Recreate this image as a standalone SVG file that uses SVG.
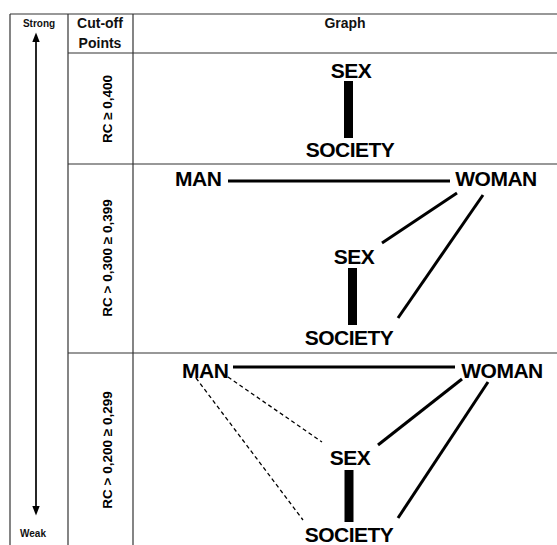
<svg xmlns="http://www.w3.org/2000/svg" width="557" height="545" viewBox="0 0 557 545">
<style>
.grid{stroke:#333;stroke-width:1.2;fill:none}
.hd{font-family:"Liberation Sans",Arial,sans-serif;font-weight:bold;font-size:14px;fill:#111;text-anchor:middle}
.sm{font-family:"Liberation Sans",Arial,sans-serif;font-weight:bold;font-size:10px;fill:#111;text-anchor:middle}
.rc{font-family:"Liberation Sans",Arial,sans-serif;font-weight:bold;font-size:13.5px;fill:#000;text-anchor:middle}
.nd{font-family:"Liberation Sans",Arial,sans-serif;font-weight:bold;font-size:21px;letter-spacing:-0.5px;fill:#000}
.ndc{text-anchor:middle}
.e{stroke:#000;stroke-width:3;fill:none}
.eb{stroke:#000;stroke-width:9;fill:none}
.ed{stroke:#000;stroke-width:1.3;stroke-dasharray:4,3;fill:none}
.ah{fill:#000}
</style>
<rect width="557" height="545" fill="#fff"/>
<g id="table">
<line class="grid" x1="10" y1="14" x2="557" y2="14"/>
<line class="grid" x1="10" y1="14" x2="10" y2="545"/>
<line class="grid" x1="68" y1="14" x2="68" y2="545"/>
<line class="grid" x1="133" y1="14" x2="133" y2="545"/>
<line class="grid" x1="68" y1="53" x2="557" y2="53"/>
<line class="grid" x1="68" y1="164" x2="557" y2="164"/>
<line class="grid" x1="68" y1="353" x2="557" y2="353"/>
<text class="sm" x="39" y="27">Strong</text>
<text class="sm" x="33" y="537">Weak</text>
<text class="hd" x="100" y="28">Cut-off</text>
<text class="hd" x="100" y="48">Points</text>
<text class="hd" x="345" y="28">Graph</text>
<text class="rc" transform="translate(112,109) rotate(-90)">RC ≥ 0,400</text>
<text class="rc" transform="translate(112,258) rotate(-90)">RC &gt; 0,300 ≥ 0,399</text>
<text class="rc" transform="translate(112,450) rotate(-90)">RC &gt; 0,200 ≥ 0,299</text>
</g>
<g id="scale-arrow">
<line x1="36" y1="40" x2="36" y2="508" stroke="#000" stroke-width="1.7"/>
<path class="ah" d="M32.3,42 L36,32.5 L39.7,42 Z"/>
<path class="ah" d="M32.3,506 L36,515.5 L39.7,506 Z"/>
</g>
<g id="connectors">
<line class="eb" x1="348.5" y1="81" x2="348.5" y2="138"/>
<line class="e" x1="228" y1="181" x2="450" y2="181"/>
<line class="e" x1="457" y1="193" x2="382" y2="243"/>
<line class="e" x1="483" y1="195" x2="398" y2="318"/>
<line class="eb" x1="352.5" y1="268" x2="352.5" y2="325"/>
<line class="e" x1="233" y1="367" x2="455" y2="367"/>
<line class="e" x1="462" y1="379" x2="378" y2="445"/>
<line class="e" x1="488" y1="382" x2="398" y2="518"/>
<line class="ed" x1="228" y1="377" x2="322" y2="442"/>
<line class="ed" x1="196" y1="378" x2="303" y2="520"/>
<line class="eb" x1="349" y1="470" x2="349" y2="522"/>
</g>
<g id="r1-sex"><text class="nd ndc" x="351" y="78">SEX</text></g>
<g id="r1-society"><text class="nd ndc" x="350" y="157">SOCIETY</text></g>
<g id="r2-man"><text class="nd" x="175" y="186">MAN</text></g>
<g id="r2-woman"><text class="nd ndc" x="496" y="186">WOMAN</text></g>
<g id="r2-sex"><text class="nd ndc" x="354" y="264">SEX</text></g>
<g id="r2-society"><text class="nd ndc" x="349" y="345">SOCIETY</text></g>
<g id="r3-man"><text class="nd" x="182" y="378">MAN</text></g>
<g id="r3-woman"><text class="nd ndc" x="502" y="378">WOMAN</text></g>
<g id="r3-sex"><text class="nd ndc" x="350" y="465">SEX</text></g>
<g id="r3-society"><text class="nd ndc" x="349" y="542">SOCIETY</text></g>
</svg>
